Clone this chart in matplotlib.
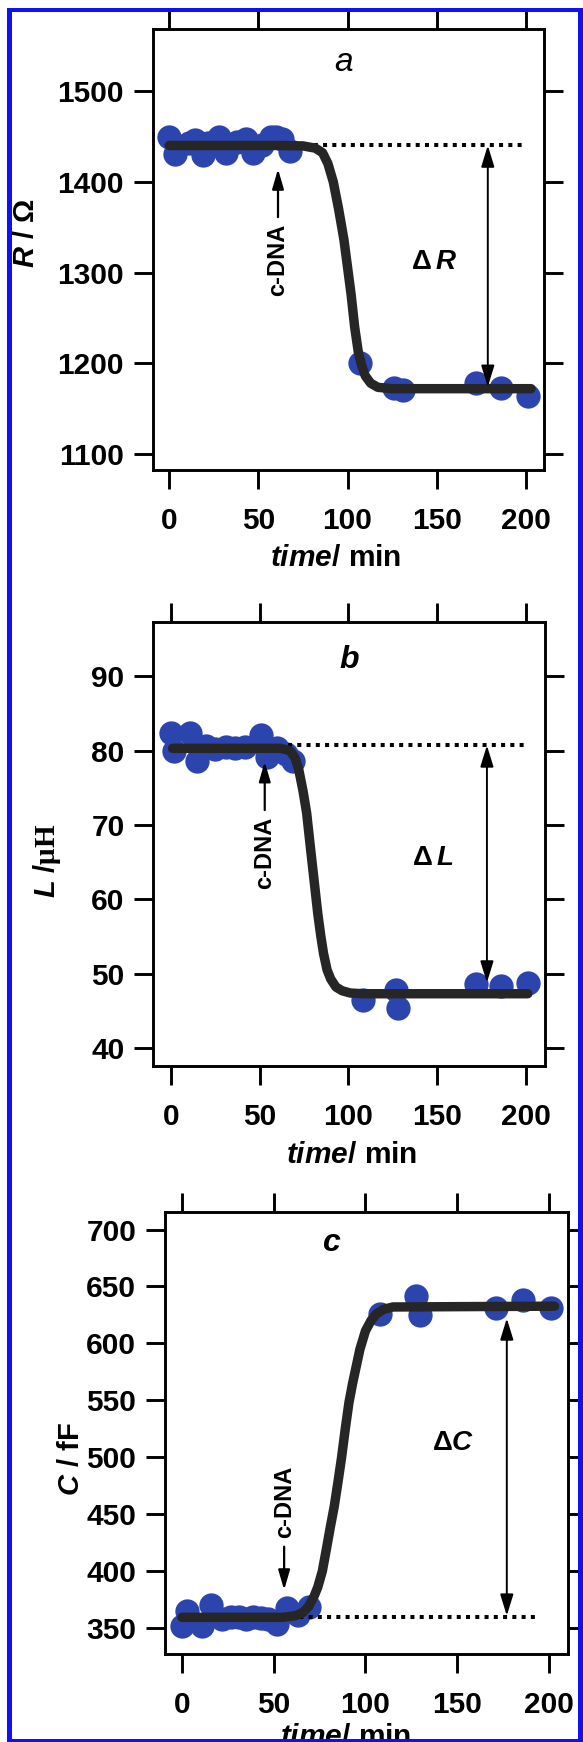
import matplotlib
matplotlib.use('Agg')
import matplotlib.pyplot as plt
from matplotlib.patches import Rectangle

# ---------------- data ----------------
# panel a : resistance
t_a = [0, 3, 11, 14.5, 19, 22, 28, 32, 38, 43, 47, 52, 57, 60, 63, 68,
       107, 126, 131, 172, 186, 201]
R_a = [1449, 1431, 1443, 1446, 1430, 1443, 1449, 1432, 1444, 1447, 1432, 1440,
       1449, 1449, 1447, 1434, 1200, 1173, 1171, 1178, 1173, 1164]
fit_t_a = [0, 60, 75, 82, 86, 89, 92, 95, 98, 100, 102, 104, 106, 108, 110,
           113, 117, 125, 203]
fit_R_a = [1440, 1440, 1439.5, 1437, 1432, 1420, 1400, 1370, 1336, 1306, 1276,
           1240, 1213, 1197, 1186, 1178, 1173.5, 1172, 1172]

# panel b : inductance
t_b = [0, 2, 11, 15, 20, 25, 31, 36, 42, 51, 54, 60, 65, 69,
       108, 127, 128, 172, 186, 201]
L_b = [82.4, 80.0, 82.4, 78.6, 80.6, 80.2, 80.5, 80.3, 80.5, 82.1, 79.1, 80.4,
       79.5, 78.6, 46.4, 47.8, 45.4, 48.6, 48.4, 48.7]
fit_t_b = [1, 62, 67, 70, 72, 74.5, 76.5, 78.6, 80.7, 82.8, 84.5, 86, 88, 90,
           93, 96.5, 101, 108, 201]
fit_L_b = [80.3, 80.3, 80.0, 79.0, 77.5, 74.5, 71.6, 67.0, 62.5, 58.0, 55.0,
           52.7, 50.5, 49.3, 48.2, 47.7, 47.4, 47.3, 47.3]

# panel c : capacitance
t_c = [0, 3, 11, 16, 22, 27, 31, 35, 39, 43, 47, 52, 57, 63, 69,
       108, 127.5, 129.5, 171, 186, 201]
C_c = [352, 365, 352, 370, 358, 360, 360, 358, 360, 359, 358, 354, 368, 362, 369,
       626, 642, 625, 631, 638, 631]
fit_t_c = [0, 55, 62, 66, 69, 72, 74, 76.5, 79, 81, 83, 85, 87, 89, 91, 93, 95,
           97, 100, 103, 106, 110, 115, 203]
fit_C_c = [359.6, 359.6, 361, 364, 369, 378, 386, 400, 422, 440, 457, 478, 500,
           525, 548, 565, 580, 595, 611, 620, 626, 630, 632, 632.7]

x_ticks = [0, 50, 100, 150, 200]
y_ticks_a = [1100, 1200, 1300, 1400, 1500]
y_ticks_b = [40, 50, 60, 70, 80, 90]
y_ticks_c = [350, 400, 450, 500, 550, 600, 650, 700]

# ---------------- style ----------------
plt.rcParams['font.family'] = ['Liberation Sans', 'DejaVu Sans']
plt.rcParams['font.weight'] = 'bold'
plt.rcParams['mathtext.fontset'] = 'custom'
plt.rcParams['mathtext.rm'] = 'Liberation Sans'
plt.rcParams['mathtext.it'] = 'Liberation Sans:italic:bold'
plt.rcParams['mathtext.bf'] = 'Liberation Sans:bold'
plt.rcParams['mathtext.sf'] = 'Liberation Serif'

W, H = 583, 1742
fig = plt.figure(figsize=(W / 100, H / 100), dpi=100)
fig.patch.set_facecolor('white')

BLUE = '#2c44ad'
CURVE = '#262626'
TICK_FS = 21.5


def add_axes_px(left, top, right, bottom):
    return fig.add_axes([left / W, 1 - bottom / H, (right - left) / W, (bottom - top) / H])


def style(ax, xlim, ylim, yticks):
    ax.set_xlim(*xlim)
    ax.set_ylim(*ylim)
    ax.set_xticks(x_ticks)
    ax.set_yticks(yticks)
    for s in ax.spines.values():
        s.set_linewidth(2.1)
    ax.tick_params(direction='out', length=13.7, width=2.1, top=True, right=True,
                   labeltop=False, labelright=False, labelsize=TICK_FS)
    ax.tick_params(axis='x', pad=13)
    ax.tick_params(axis='y', pad=7)


def draw_panel(ax, t, v, ft, fv, dot, darrow, dlabel, cdna, letter):
    ax.plot(t, v, 'o', ms=17.5, color=BLUE, mec='none', zorder=3)
    ax.plot(dot[0], dot[1], ls=(0, (1, 1.3)), lw=2.9, color='black', zorder=4)
    ax.plot(ft, fv, '-', lw=6.8, color=CURVE, solid_capstyle='round', zorder=5)
    ax.annotate('', xy=(darrow[0], darrow[1]), xytext=(darrow[0], darrow[2]),
                arrowprops=dict(arrowstyle='<|-|>,head_length=1.3,head_width=0.4',
                                lw=1.4, color='black', shrinkA=0, shrinkB=0,
                                mutation_scale=10), zorder=6)
    ax.text(dlabel[0], dlabel[1], dlabel[2], fontsize=20, ha='center', va='center')
    ax.text(cdna[0], cdna[1], 'c-DNA', rotation=90, fontsize=17, ha='center',
            va='center')
    ax.annotate('', xy=(cdna[0], cdna[3]), xytext=(cdna[0], cdna[2]),
                arrowprops=dict(arrowstyle='-|>,head_length=1.2,head_width=0.35',
                                lw=1.6, color='black', shrinkA=0, shrinkB=0,
                                mutation_scale=10), zorder=6)
    ax.text(letter[0], letter[1], letter[2], fontsize=letter[3], fontstyle='italic',
            fontweight=letter[4], ha='center', va='center')


# panel a
ax_a = add_axes_px(152.7, 29.3, 544.3, 470)
style(ax_a, (-9.3, 210.4), (1082.4, 1568), y_ticks_a)
draw_panel(ax_a, t_a, R_a, fit_t_a, fit_R_a,
           ([65.6, 199], [1440, 1440]),
           (178.7, 1440, 1174),
           (148.4, 1312, r'$\mathrm{\Delta}\,\mathit{R}$'),
           (61, 1314, 1361, 1414),
           (98, 1531, 'a', 24, 'normal'))

# panel b
ax_b = add_axes_px(153.3, 621.7, 545, 1065.5)
style(ax_b, (-9.85, 210.7), (37.65, 97.33), y_ticks_b)
draw_panel(ax_b, t_b, L_b, fit_t_b, fit_L_b,
           ([66, 199], [80.7, 80.7]),
           (178, 80.7, 48.8),
           (147.6, 65.5, r'$\mathrm{\Delta}\,\mathit{L}$'),
           (52.9, 66.3, 72, 78.5),
           (100.3, 92.2, 'b', 23, 'bold'))

# panel c
ax_c = add_axes_px(165, 1212.3, 568.3, 1654)
style(ax_c, (-9.2, 210.5), (327.4, 715.1), y_ticks_c)
draw_panel(ax_c, t_c, C_c, fit_t_c, fit_C_c,
           ([58.7, 193.4], [359.6, 359.6]),
           (177, 622, 361),
           (147.8, 512.4, r'$\mathrm{\Delta}\mathit{C}$'),
           (55.7, 461, 421.6, 383.6),
           (81.1, 688, 'c', 23, 'bold'))


def ftext(x, y, s, **kw):
    return fig.text(x / W, 1 - y / H, s, **kw)


# axis labels
ftext(26, 233, r'$\mathit{R}$ / Ω', rotation=90, fontsize=21, ha='center', va='center')
ftext(47, 861, r'$\mathit{L}$ /$\mathsf{\mu H}$', rotation=90, fontsize=21,
      ha='center', va='center')
ftext(71, 1459, r'$\mathit{C}$ / fF', rotation=90, fontsize=21, ha='center', va='center')
for (x, y) in [(335.5, 566), (352, 1163), (346, 1745)]:
    ftext(x, y, r'$\mathit{time}$/ min', fontsize=21.5, ha='center', va='baseline')

# blue frame around the figure
BORDER = '#1010f2'
for (x0, y0, x1, y1) in [(7, 8, 12, 1742), (7, 8, 583, 12.5),
                         (578, 8, 583, 1742), (7, 1739, 583, 1742)]:
    fig.add_artist(Rectangle((x0 / W, 1 - y1 / H), (x1 - x0) / W, (y1 - y0) / H,
                             transform=fig.transFigure, color=BORDER, lw=0,
                             zorder=20))

fig.savefig('out.png', dpi=100)
